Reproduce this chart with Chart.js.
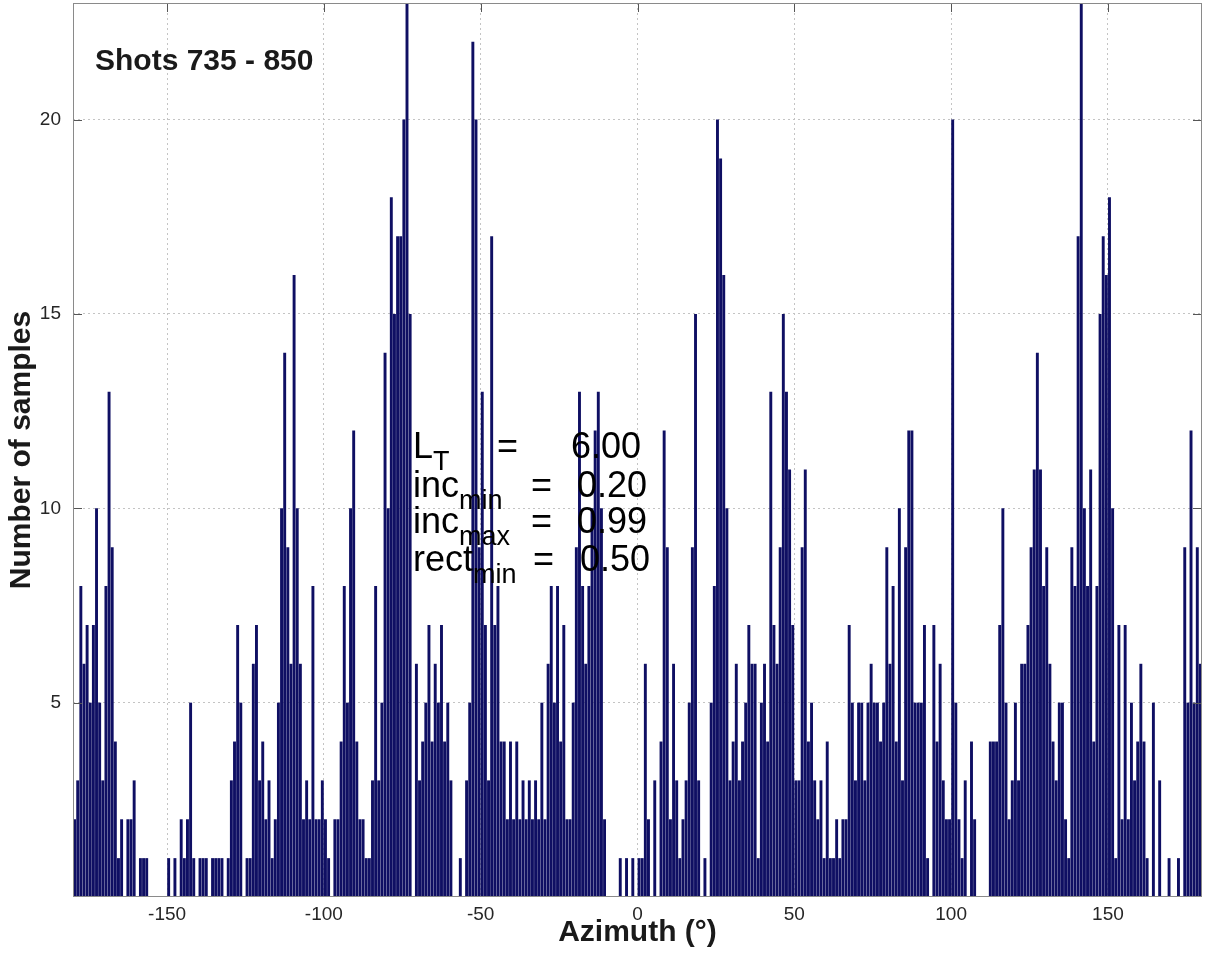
<!DOCTYPE html>
<html>
<head>
<meta charset="utf-8">
<script src="https://cdn.jsdelivr.net/npm/chart.js@4.4.1/dist/chart.umd.min.js"></script>
<style>
  html, body { margin: 0; padding: 0; background: #fff; }
  #wrap { position: relative; width: 1209px; height: 955px; }
  #hist { position: absolute; left: 0; top: 0; }
  .txt { position: absolute; font-family: "Liberation Sans", Arial, sans-serif; color: #000; line-height: 1; white-space: nowrap; }
  .title { font-size: 30px; font-weight: bold; color: #1a1a1a; }
  .param { font-size: 36px; }
  .param sub { font-size: 27px; vertical-align: -12px; }
</style>
</head>
<body>
<div id="wrap">
  <canvas id="hist" width="1209" height="955"></canvas>
  <div class="txt title" style="left:95px; top:45px">Shots 735 - 850</div>
</div>
<script>
// histogram of azimuths, 1 degree bins from -180 to 180
const counts = [
  2, 3, 8, 6, 7, 5, 7,10, 5, 3, 8,13, 9, 4, 1, 2, 0, 2, 2, 3, 0, 1, 1, 1, 0, 0, 0, 0, 0, 0,
  1, 0, 1, 0, 2, 1, 2, 5, 1, 0, 1, 1, 1, 0, 1, 1, 1, 1, 0, 1, 3, 4, 7, 5, 0, 1, 1, 6, 7, 3,
  4, 2, 3, 1, 2, 5,10,14, 9, 6,16,10, 6, 2, 3, 2, 8, 2, 2, 3, 2, 1, 0, 2, 2, 4, 8, 5,10,12,
  4, 2, 2, 1, 1, 3, 8, 3, 5,14,10,18,15,17,17,20,23,15, 0, 6, 3, 4, 5, 7, 4, 6, 5, 7, 4, 5,
  3, 0, 0, 1, 0, 3, 5,22,20, 9,13, 7, 3,17, 7, 8, 4, 4, 2, 4, 2, 4, 2, 3, 2, 3, 2, 3, 2, 5,
  2, 6, 8, 5, 8, 4, 7, 2, 2, 5, 9,13, 8, 6, 8,10,12,13,10, 2, 0, 0, 0, 0, 1, 0, 1, 0, 1, 0,
  1, 1, 6, 2, 0, 3, 0, 4,12, 9, 2, 6, 3, 1, 2, 3, 5, 9,15, 3, 0, 1, 0, 5, 8,20,19,16,10, 3,
  4, 6, 3, 4, 5, 7, 6, 6, 1, 5, 6, 4,13, 7, 6, 9,15,13,11, 7, 3, 3, 9,11, 4, 5, 3, 2, 3, 1,
  4, 1, 1, 2, 1, 2, 2, 7, 5, 3, 5, 5, 3, 5, 6, 5, 5, 4, 5, 9, 6, 8, 4,10, 3, 9,12,12, 5, 5,
  5, 7, 1, 0, 7, 4, 6, 3, 2, 2,20, 5, 2, 1, 3, 0, 4, 2, 0, 0, 0, 0, 4, 4, 4, 7,10, 5, 2, 3,
  5, 3, 6, 6, 7, 9,11,14,11, 8, 9, 6, 4, 3, 5, 5, 2, 1, 9, 8,17,23,10, 8,11, 4, 8,15,17,16,
 18,10, 1, 7, 2, 7, 2, 5, 3, 4, 6, 4, 1, 0, 5, 0, 3, 0, 0, 1, 0, 0, 1, 0, 9, 5,12, 5, 9, 6
];
const binCenters = counts.map((c, i) => -179.5 + i);
const xTicks = [-150, -100, -50, 0, 50, 100, 150];
const yTicks = [5, 10, 15, 20];

// parameter block: name, subscript, value
const paramNames = ['L', 'inc', 'inc', 'rect'];
const paramSubs = ['T', 'min', 'max', 'min'];
const paramValues = ['6.00', '0.20', '0.99', '0.50'];

const FONT = '"Liberation Sans", Arial, sans-serif';

const wrap = document.getElementById('wrap');
const lineTops = [428, 467, 503, 541];
const eqX = [497, 531, 531, 533];
const valX = [571, 577, 577, 580];
paramNames.forEach((name, i) => {
  const label = document.createElement('div');
  label.className = 'txt param';
  label.style.left = '413px';
  label.style.top = lineTops[i] + 'px';
  label.innerHTML = name + '<sub>' + paramSubs[i] + '</sub>';
  wrap.appendChild(label);

  const eq = document.createElement('div');
  eq.className = 'txt param';
  eq.style.left = eqX[i] + 'px';
  eq.style.top = lineTops[i] + 'px';
  eq.textContent = '=';
  wrap.appendChild(eq);

  const val = document.createElement('div');
  val.className = 'txt param';
  val.style.left = valX[i] + 'px';
  val.style.top = lineTops[i] + 'px';
  val.textContent = paramValues[i];
  wrap.appendChild(val);
});

// axes box with inward tick marks
const axesBox = {
  id: 'axesBox',
  afterDatasetsDraw(chart) {
    const { ctx, chartArea: a, scales: { x, y } } = chart;
    ctx.save();
    ctx.strokeStyle = '#555';
    ctx.lineWidth = 1;
    ctx.beginPath();
    xTicks.forEach(v => {
      const px = Math.round(x.getPixelForValue(v)) + 0.5;
      ctx.moveTo(px, a.top);
      ctx.lineTo(px, a.top + 9);
    });
    yTicks.forEach(v => {
      const py = Math.round(y.getPixelForValue(v)) + 0.5;
      ctx.moveTo(a.left, py);
      ctx.lineTo(a.left + 9, py);
      ctx.moveTo(a.right, py);
      ctx.lineTo(a.right - 9, py);
    });
    ctx.stroke();
    ctx.strokeStyle = '#8a8a8a';
    ctx.strokeRect(a.left + 0.5, a.top + 0.5, a.width - 1, a.height - 1);
    ctx.restore();
  }
};

new Chart(document.getElementById('hist').getContext('2d'), {
  type: 'bar',
  data: {
    datasets: [{
      data: counts.map((c, i) => ({ x: binCenters[i], y: c })),
      backgroundColor: '#0f0f63',
      borderWidth: 0,
      barPercentage: 0.93,
      categoryPercentage: 1
    }]
  },
  options: {
    responsive: false,
    animation: false,
    layout: { padding: { left: 0, right: 7, top: 3, bottom: 0 } },
    plugins: {
      legend: { display: false },
      tooltip: { enabled: false }
    },
    scales: {
      x: {
        type: 'linear',
        min: -180,
        max: 180,
        offset: false,
        afterBuildTicks: s => { s.ticks = xTicks.map(v => ({ value: v })); },
        afterFit: s => { s.height = 58; s.paddingLeft = 0; s.paddingRight = 0; },
        grid: { offset: false, color: '#c4c4c4', drawTicks: false },
        border: { display: false, dash: [2, 3] },
        ticks: { padding: 6, color: '#262626', font: { family: FONT, size: 19 } },
        title: {
          display: true,
          text: 'Azimuth (°)',
          color: '#1a1a1a',
          font: { family: FONT, size: 30, weight: 'bold' },
          padding: { top: 0, bottom: 4 }
        }
      },
      y: {
        min: 0,
        max: 23,
        afterBuildTicks: s => { s.ticks = yTicks.map(v => ({ value: v })); },
        afterFit: s => { s.width = 73; s.paddingTop = 0; s.paddingBottom = 0; },
        grid: { color: '#c4c4c4', drawTicks: false },
        border: { display: false, dash: [2, 3] },
        ticks: { padding: 12, color: '#262626', font: { family: FONT, size: 19 } },
        title: {
          display: true,
          text: 'Number of samples',
          color: '#1a1a1a',
          font: { family: FONT, size: 30, weight: 'bold' },
          padding: { top: 4, bottom: 0 }
        }
      }
    }
  },
  plugins: [axesBox]
});
</script>
</body>
</html>
